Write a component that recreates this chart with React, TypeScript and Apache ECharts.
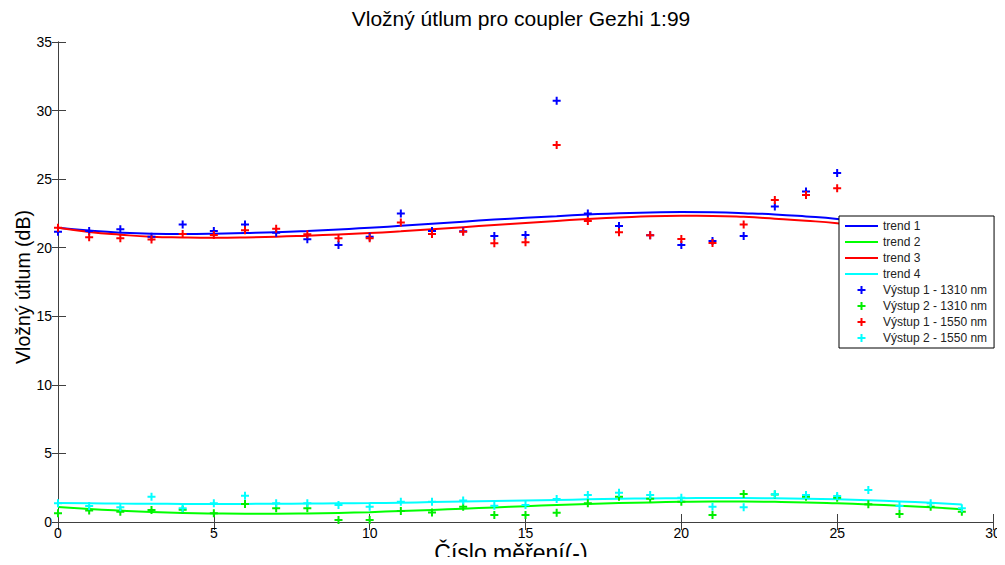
import React, { useEffect, useRef } from "react";
import * as echarts from "echarts";

const measurementIdx = [0,1,2,3,4,5,6,7,8,9,10,11,12,13,14,15,16,17,18,19,20,21,22,23,24,25,26,27,28,29];

const out1_1310 = [21.17,21.22,21.34,20.8,21.7,21.22,21.7,21.1,20.61,20.2,20.8,22.5,21.22,21.2,20.85,20.93,30.72,22.5,21.58,20.9,20.2,20.49,20.85,23.0,24.09,25.45];
const out1_1550 = [21.46,20.76,20.69,20.6,21.0,20.93,21.27,21.39,20.98,20.69,20.69,21.83,21.0,21.17,20.32,20.39,27.49,21.95,21.12,20.9,20.63,20.34,21.7,23.48,23.84,24.33];
const out2_1310 = [0.63,0.83,0.75,0.88,0.9,0.63,1.31,1.0,1.0,0.15,0.15,0.8,0.7,1.12,0.51,0.51,0.68,1.36,1.85,1.7,1.48,0.51,2.04,2.0,1.85,1.77,1.29,0.58,1.12,0.75];
const out2_1550 = [1.36,1.17,1.07,1.85,1.0,1.36,1.92,1.36,1.36,1.24,1.12,1.48,1.48,1.56,1.19,1.24,1.68,1.97,2.14,1.97,1.77,1.12,1.07,2.02,1.97,1.9,2.33,1.17,1.36,1.0];

const trend1 = [21.45,21.25,21.1,21.02,21.0,21.02,21.07,21.13,21.22,21.33,21.45,21.6,21.75,21.9,22.05,22.18,22.3,22.42,22.52,22.57,22.6,22.58,22.52,22.43,22.28,22.1,21.85,21.55,21.2,20.8];
const trend2 = [1.1,0.95,0.83,0.73,0.66,0.62,0.6,0.6,0.62,0.66,0.72,0.8,0.88,0.97,1.06,1.15,1.24,1.32,1.38,1.43,1.47,1.49,1.49,1.47,1.43,1.36,1.28,1.18,1.07,0.93];
const trend3 = [21.45,21.15,20.95,20.8,20.75,20.73,20.75,20.8,20.88,20.97,21.07,21.2,21.35,21.5,21.65,21.8,21.95,22.1,22.2,22.3,22.33,22.32,22.25,22.12,21.97,21.78,21.5,21.2,20.85,20.45];
const trend4 = [1.38,1.36,1.34,1.33,1.32,1.32,1.32,1.33,1.34,1.36,1.38,1.41,1.45,1.49,1.53,1.57,1.61,1.65,1.69,1.72,1.74,1.75,1.75,1.73,1.7,1.65,1.58,1.5,1.4,1.28];

const xTicks = { min: 0, max: 30, interval: 5 };
const yTicks = { min: 0, max: 35, interval: 5 };

const titleText = "Vložný útlum pro coupler Gezhi 1:99";
const xLabel = "Číslo měření(-)";
const yLabel = "Vložný útlum (dB)";

const PLUS = "path://M3,0H5V3H8V5H5V8H3V5H0V3H3Z";
const LINE_ICON = "path://M0,3H33V5H0Z";
const FONT = "Liberation Sans, Arial, sans-serif";

const pairs = (ys: number[]) => ys.map((y, i) => [measurementIdx[i], y]);

export default function App() {
  const ref = useRef<HTMLDivElement>(null);
  useEffect(() => {
    if (!ref.current) return;
    const chart = echarts.init(ref.current, undefined, { renderer: "svg" });
    const lineSeries = (name: string, data: number[], color: string) => ({
      name,
      type: "line",
      data: pairs(data),
      smooth: true,
      symbol: "none",
      showSymbol: false,
      lineStyle: { color, width: 2 },
      itemStyle: { color },
      xAxisIndex: 0,
      yAxisIndex: 0,
      z: 2,
    });
    const scatterSeries = (name: string, data: number[], color: string) => ({
      name,
      type: "scatter",
      data: pairs(data),
      symbol: PLUS,
      symbolSize: 8,
      itemStyle: { color, opacity: 1 },
      xAxisIndex: 0,
      yAxisIndex: 0,
      z: 3,
    });
    const axisLine = { show: true, lineStyle: { color: "#404040", width: 1 } };
    const textStyle = (text: string, size: number) => ({
      text,
      textAlign: "center",
      textVerticalAlign: "middle",
      fontSize: size,
      fontFamily: FONT,
      fill: "#000",
    });
    chart.setOption({
      animation: false,
      backgroundColor: "#fff",
      grid: { left: 58, right: 12, top: 42, bottom: 43, containLabel: false, outerBoundsMode: "none" },
      graphic: [
        { type: "text", x: 521, y: 18, style: textStyle(titleText, 21) },
        { type: "text", x: 511, y: 553, style: textStyle(xLabel, 23) },
        { type: "text", x: 23, y: 287, rotation: Math.PI / 2, style: textStyle(yLabel, 19.5) },
      ],
      xAxis: [
        {
          type: "value",
          ...xTicks,
          position: "bottom",
          axisLine,
          axisTick: { show: true, inside: true, length: 8, lineStyle: { color: "#404040" } },
          axisLabel: { fontSize: 14, lineHeight: 14, fontFamily: FONT, color: "#000", margin: 4 },
          splitLine: { show: false },
        },
        {
          type: "value",
          ...xTicks,
          position: "top",
          axisLine,
          axisTick: { show: true, inside: true, length: 8, lineStyle: { color: "#404040" } },
          axisLabel: { show: false },
          splitLine: { show: false },
        },
      ],
      yAxis: [
        {
          type: "value",
          ...yTicks,
          position: "left",
          axisLine,
          axisTick: { show: true, inside: true, length: 8, lineStyle: { color: "#404040" } },
          axisLabel: { fontSize: 14, fontFamily: FONT, color: "#000", margin: 6 },
          splitLine: { show: false },
        },
        {
          type: "value",
          ...yTicks,
          position: "right",
          axisLine,
          axisTick: { show: true, inside: true, length: 6, lineStyle: { color: "#404040" } },
          axisLabel: { show: false },
          splitLine: { show: false },
        },
      ],
      legend: {
        orient: "vertical",
        left: 839,
        top: 216,
        padding: [3, 7, 3, 6],
        itemWidth: 33,
        itemHeight: 8,
        itemGap: 2,
        backgroundColor: "#fff",
        borderColor: "#000",
        borderWidth: 1,
        borderRadius: 0,
        textStyle: { fontSize: 12, fontFamily: FONT, color: "#222", lineHeight: 14 },
        data: [
          { name: "trend 1", icon: LINE_ICON },
          { name: "trend 2", icon: LINE_ICON },
          { name: "trend 3", icon: LINE_ICON },
          { name: "trend 4", icon: LINE_ICON },
          { name: "Výstup 1 - 1310 nm", icon: PLUS },
          { name: "Výstup 2 - 1310 nm", icon: PLUS },
          { name: "Výstup 1 - 1550 nm", icon: PLUS },
          { name: "Výstup 2 - 1550 nm", icon: PLUS },
        ],
      },
      series: [
        lineSeries("trend 1", trend1, "#0000ff"),
        lineSeries("trend 2", trend2, "#00ff00"),
        lineSeries("trend 3", trend3, "#ff0000"),
        lineSeries("trend 4", trend4, "#00ffff"),
        scatterSeries("Výstup 1 - 1310 nm", out1_1310, "#0000ff"),
        scatterSeries("Výstup 2 - 1310 nm", out2_1310, "#00ee00"),
        scatterSeries("Výstup 1 - 1550 nm", out1_1550, "#ff0000"),
        scatterSeries("Výstup 2 - 1550 nm", out2_1550, "#00ffff"),
      ],
    });
    return () => chart.dispose();
  }, []);
  return <div ref={ref} style={{ width: 1005, height: 565, margin: -8 }} />;
}
